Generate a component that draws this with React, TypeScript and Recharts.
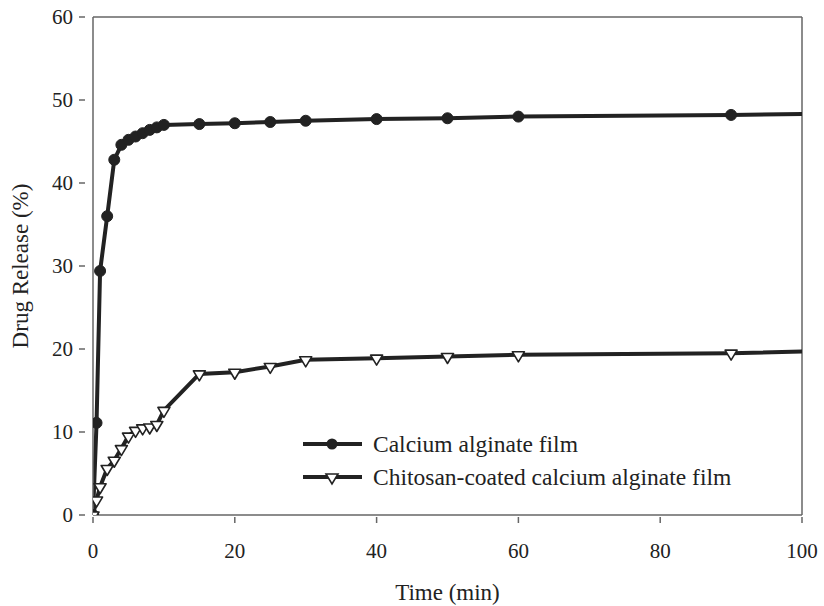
import React from 'react';
import { ComposedChart, Line, XAxis, YAxis, ReferenceLine, Label } from 'recharts';

const timeAlginate = [0, 0.5, 1, 2, 3, 4, 5, 6, 7, 8, 9, 10, 15, 20, 25, 30, 40, 50, 60, 90, 120];
const releaseAlginate = [0, 11.1, 29.4, 36.0, 42.8, 44.6, 45.2, 45.6, 46.0, 46.4, 46.7, 47.0, 47.1, 47.2, 47.35, 47.5, 47.7, 47.8, 48.0, 48.2, 48.5];

const timeChitosan = [0, 0.5, 1, 2, 3, 4, 5, 6, 7, 8, 9, 10, 15, 20, 25, 30, 40, 50, 60, 90, 120];
const releaseChitosan = [0, 1.8, 3.4, 5.6, 6.6, 8.0, 9.5, 10.2, 10.5, 10.6, 10.9, 12.6, 17.0, 17.2, 17.9, 18.7, 18.9, 19.1, 19.3, 19.5, 20.1];

const xTicks = [0, 20, 40, 60, 80, 100];
const yTicks = [0, 10, 20, 30, 40, 50, 60];

const seriesNames = ['Calcium alginate film', 'Chitosan-coated calcium alginate film'];

const alginateData = timeAlginate.map((t, i) => ({ t, v: releaseAlginate[i] }));
const chitosanData = timeChitosan.map((t, i) => ({ t, v: releaseChitosan[i] }));

const FONT = '"Liberation Serif", "Times New Roman", serif';
const INK = '#222';
const FRAME = '#666';

const CircleDot = (props: any) => {
  const { cx, cy } = props;
  if (cx == null || cy == null || cx > 803) return <g />;
  return <circle cx={cx} cy={cy} r={5.5} fill={INK} stroke={INK} strokeWidth={1} />;
};

const TriDot = (props: any) => {
  const { cx, cy } = props;
  if (cx == null || cy == null || cx > 803) return <g />;
  const s = 6;
  return (
    <polygon
      points={`${cx - s},${cy - 3} ${cx + s},${cy - 3} ${cx},${cy + 7}`}
      fill="#fff"
      stroke={INK}
      strokeWidth={1.6}
      strokeLinejoin="round"
    />
  );
};

const XTick = (props: any) => {
  const { x, y, payload } = props;
  return (
    <g>
      <line x1={x} x2={x} y1={y} y2={y - 6} stroke={FRAME} strokeWidth={1.5} />
      <text x={x} y={y + 35} textAnchor="middle" fontFamily={FONT} fontSize={21} fill={INK}>
        {payload.value}
      </text>
    </g>
  );
};

const YTick = (props: any) => {
  const { x, y, payload } = props;
  return (
    <g>
      <line x1={x - 6} x2={x} y1={y} y2={y} stroke={FRAME} strokeWidth={1.5} />
      <text x={x - 12} y={y + 7} textAnchor="end" fontFamily={FONT} fontSize={21} fill={INK}>
        {payload.value}
      </text>
    </g>
  );
};

const LegendBox = () => (
  <svg width={470} height={70} style={{ position: 'absolute', left: 300, top: 430 }}>
    {seriesNames.map((name, i) => {
      const cy = 14 + i * 33;
      return (
        <g key={name}>
          <line x1={3} x2={62} y1={cy} y2={cy} stroke={INK} strokeWidth={4} />
          {i === 0 ? (
            <circle cx={32} cy={cy} r={5.5} fill={INK} />
          ) : (
            <polygon points={`${26},${cy - 3} ${38},${cy - 3} ${32},${cy + 7}`} fill="#fff" stroke={INK} strokeWidth={1.6} />
          )}
          <text x={73} y={cy + 8} fontFamily={FONT} fontSize={23.5} fill={INK}>
            {name}
          </text>
        </g>
      );
    })}
  </svg>
);

export default function App() {
  return (
    <div style={{ position: 'absolute', left: 0, top: 0, width: 824, height: 606, background: '#fff' }}>
      <ComposedChart
        width={824}
        height={606}
        margin={{ top: 17, right: 22, bottom: 0, left: 0 }}
      >
        <XAxis
          dataKey="t"
          type="number"
          domain={[0, 100]}
          ticks={xTicks}
          allowDataOverflow
          height={91}
          stroke={FRAME}
          strokeWidth={1.5}
          tickLine={false}
          tick={<XTick />}
          interval={0}
        >
          <Label value="Time (min)" position="insideBottom" offset={6} style={{ fontFamily: FONT, fontSize: 23, fill: INK }} />
        </XAxis>
        <YAxis
          type="number"
          domain={[0, 60]}
          ticks={yTicks}
          allowDataOverflow
          width={93}
          stroke={FRAME}
          strokeWidth={1.5}
          tickLine={false}
          tick={<YTick />}
          interval={0}
        >
          <Label value="Drug Release (%)" angle={-90} position="insideLeft" offset={20} style={{ fontFamily: FONT, fontSize: 23, fill: INK, textAnchor: 'middle' }} />
        </YAxis>
        <ReferenceLine y={60} stroke={FRAME} strokeWidth={1.5} />
        <ReferenceLine x={100} stroke={FRAME} strokeWidth={1.5} />
        <Line
          data={alginateData}
          dataKey="v"
          name={seriesNames[0]}
          stroke={INK}
          strokeWidth={4}
          dot={<CircleDot />}
          isAnimationActive={false}
        />
        <Line
          data={chitosanData}
          dataKey="v"
          name={seriesNames[1]}
          stroke={INK}
          strokeWidth={4}
          dot={<TriDot />}
          isAnimationActive={false}
        />
      </ComposedChart>
      <LegendBox />
    </div>
  );
}
